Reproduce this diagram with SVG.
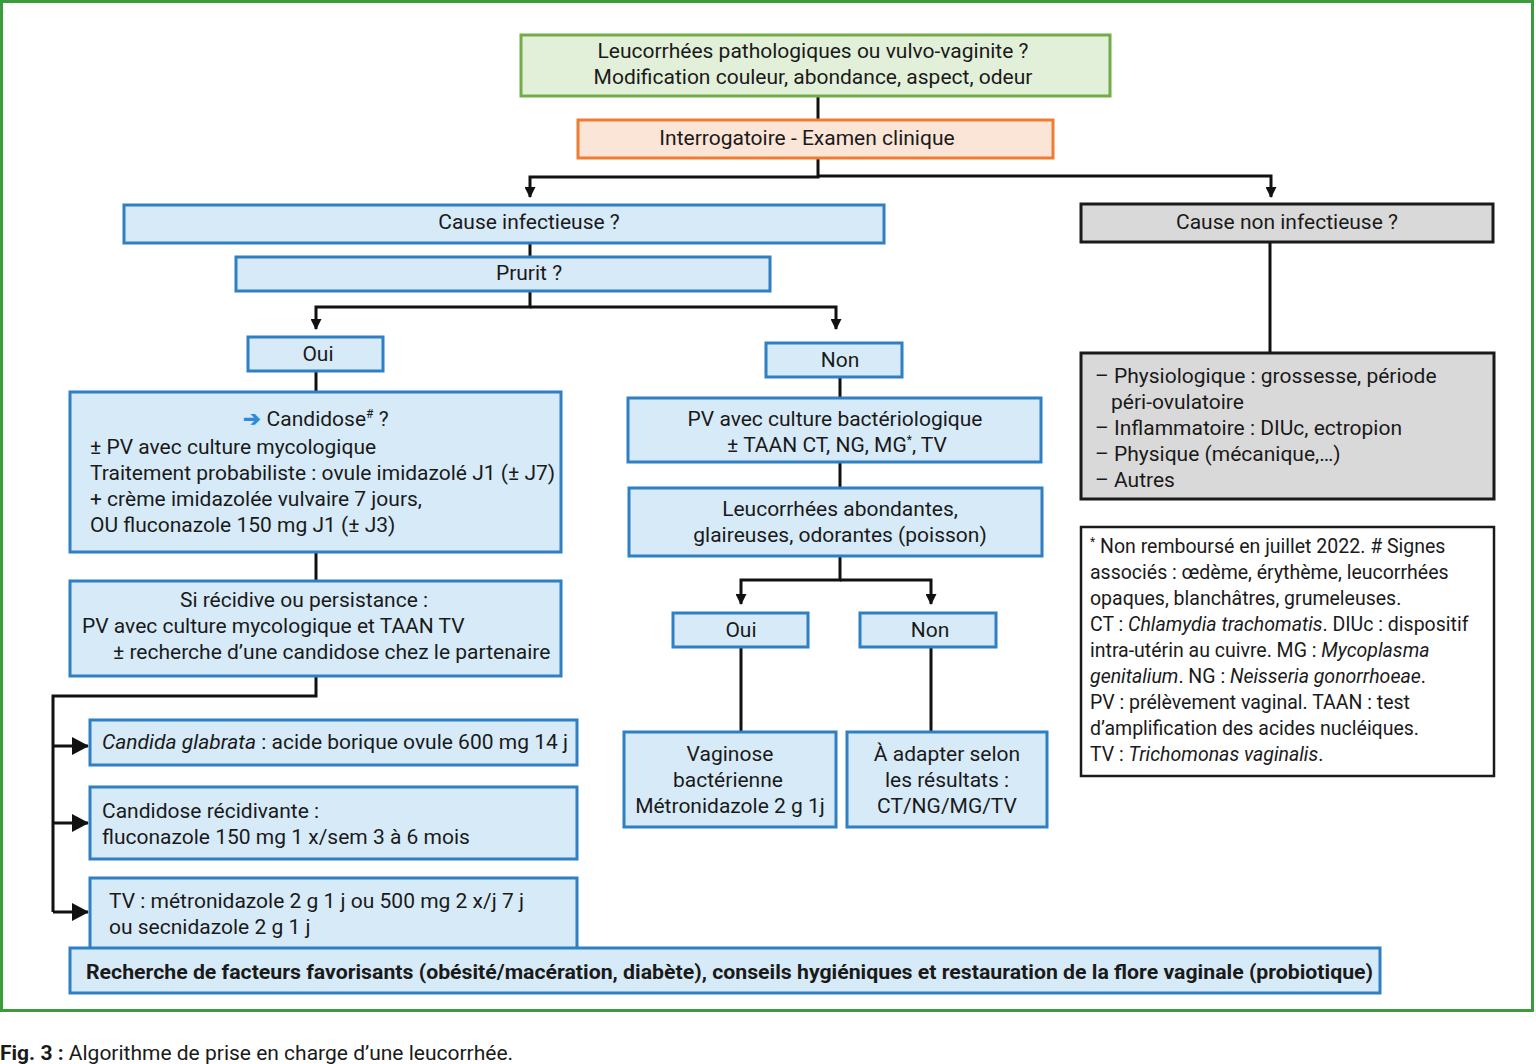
<svg xmlns="http://www.w3.org/2000/svg" width="1536" height="1064" viewBox="0 0 1536 1064">
<style>
text{font-family:Roboto,"Liberation Sans",sans-serif;font-size:21px;fill:#1a1a1a}
.c{text-anchor:middle}
.b{fill:#d6eaf8;stroke:#2e7fc4;stroke-width:3}
.g{fill:#d9d9d9;stroke:#1a1a1a;stroke-width:3}
.w{fill:#fff;stroke:#1a1a1a;stroke-width:2.5}
.ln{fill:none;stroke:#111;stroke-width:3}
.sm{font-size:19.5px}
.i{font-style:italic}
</style>
<defs>
<marker id="ad" markerWidth="11" markerHeight="11" refX="10" refY="5.5" orient="auto" markerUnits="userSpaceOnUse" viewBox="0 0 11 11">
<path d="M0,0 L11,5.5 L0,11 Z" fill="#111"/>
</marker>
<marker id="ar" markerWidth="17" markerHeight="18" refX="16" refY="9" orient="auto" markerUnits="userSpaceOnUse" viewBox="0 0 17 18">
<path d="M0,0 L17,9 L0,18 Z" fill="#111"/>
</marker>
</defs>
<rect x="0" y="0" width="1536" height="1064" fill="#fff"/>
<rect x="1.5" y="1.5" width="1531" height="1009" fill="none" stroke="#3c9c3c" stroke-width="3"/>

<g id="connectors">
<path class="ln" d="M818,96 V120"/>
<path class="ln" d="M818,158 V177 H530 V197" marker-end="url(#ad)"/>
<path class="ln" d="M818,176 H1271 V197" marker-end="url(#ad)"/>
<path class="ln" d="M530,243 V257"/>
<path class="ln" d="M530,291 V307 H316 V329" marker-end="url(#ad)"/>
<path class="ln" d="M530,307 H836 V329" marker-end="url(#ad)"/>
<path class="ln" d="M316,371 V392"/>
<path class="ln" d="M316,552 V581"/>
<path class="ln" d="M316,676 V696 H53 V912"/>
<path class="ln" d="M53,746 H88" marker-end="url(#ar)"/>
<path class="ln" d="M53,823 H88" marker-end="url(#ar)"/>
<path class="ln" d="M53,912 H88" marker-end="url(#ar)"/>
<path class="ln" d="M840,377 V398"/>
<path class="ln" d="M840,462 V488"/>
<path class="ln" d="M840,556 V580 H741 V604" marker-end="url(#ad)"/>
<path class="ln" d="M840,580 H931 V604" marker-end="url(#ad)"/>
<path class="ln" d="M741,647 V732"/>
<path class="ln" d="M931,647 V732"/>
<path class="ln" d="M1270,242 V353"/>
</g>

<g id="n-leucorrhees">
<rect x="521" y="35" width="589" height="61" fill="#e2f0d9" stroke="#70ad47" stroke-width="3"/>
<text class="c" x="813" y="58">Leucorrhées pathologiques ou vulvo-vaginite ?</text>
<text class="c" x="813" y="84">Modification couleur, abondance, aspect, odeur</text>
</g>
<g id="n-interrogatoire">
<rect x="578" y="120" width="475" height="38" fill="#fbe5d6" stroke="#ed7d31" stroke-width="3"/>
<text class="c" x="807" y="145">Interrogatoire - Examen clinique</text>
</g>
<g id="n-cause-inf">
<rect class="b" x="124" y="205" width="760" height="38"/>
<text class="c" x="529" y="229">Cause infectieuse ?</text>
</g>
<g id="n-cause-noninf">
<rect class="g" x="1081" y="204" width="412" height="38"/>
<text class="c" x="1287" y="229">Cause non infectieuse ?</text>
</g>
<g id="n-prurit">
<rect class="b" x="236" y="257" width="534" height="34"/>
<text class="c" x="529" y="280">Prurit ?</text>
</g>
<g id="n-oui1">
<rect class="b" x="248" y="337" width="135" height="34"/>
<text class="c" x="318" y="361">Oui</text>
</g>
<g id="n-non1">
<rect class="b" x="766" y="343" width="136" height="34"/>
<text class="c" x="840" y="367">Non</text>
</g>
<g id="n-candidose">
<rect class="b" x="70" y="392" width="491" height="160"/>
<text class="c" x="316" y="426"><tspan fill="#2e8bd8" font-weight="bold">➔</tspan> Candidose<tspan font-size="12" dy="-8">#</tspan><tspan dy="8"> ?</tspan></text>
<text x="90" y="454">± PV avec culture mycologique</text>
<text x="90" y="480">Traitement probabiliste : ovule imidazolé J1 (± J7)</text>
<text x="90" y="506">+ crème imidazolée vulvaire 7 jours,</text>
<text x="90" y="532">OU fluconazole 150 mg J1 (± J3)</text>
</g>
<g id="n-recidive">
<rect class="b" x="70" y="581" width="491" height="95"/>
<text class="c" x="304" y="607">Si récidive ou persistance :</text>
<text x="82" y="633">PV avec culture mycologique et TAAN TV</text>
<text x="113" y="659">± recherche d’une candidose chez le partenaire</text>
</g>
<g id="n-glabrata">
<rect class="b" x="90" y="720" width="487" height="45"/>
<text x="102" y="749"><tspan class="i">Candida glabrata</tspan> : acide borique ovule 600 mg 14 j</text>
</g>
<g id="n-recidivante">
<rect class="b" x="90" y="787" width="487" height="72"/>
<text x="102" y="818">Candidose récidivante :</text>
<text x="102" y="844">fluconazole 150 mg 1 x/sem 3 à 6 mois</text>
</g>
<g id="n-tv">
<rect class="b" x="90" y="878" width="487" height="72"/>
<text x="109" y="908">TV : métronidazole 2 g 1 j ou 500 mg 2 x/j 7 j</text>
<text x="109" y="934">ou secnidazole 2 g 1 j</text>
</g>
<g id="n-recherche">
<rect class="b" x="70" y="948" width="1310" height="45"/>
<text x="86" y="979" font-weight="bold" textLength="1287" lengthAdjust="spacingAndGlyphs">Recherche de facteurs favorisants (obésité/macération, diabète), conseils hygiéniques et restauration de la flore vaginale (probiotique)</text>
</g>
<g id="n-pv-bact">
<rect class="b" x="628" y="398" width="413" height="64"/>
<text class="c" x="835" y="426">PV avec culture bactériologique</text>
<text class="c" x="837" y="452">± TAAN CT, NG, MG<tspan font-size="12" dy="-8">*</tspan><tspan dy="8">, TV</tspan></text>
</g>
<g id="n-leuco-abond">
<rect class="b" x="629" y="488" width="413" height="68"/>
<text class="c" x="840" y="516">Leucorrhées abondantes,</text>
<text class="c" x="840" y="542">glaireuses, odorantes (poisson)</text>
</g>
<g id="n-oui2">
<rect class="b" x="673" y="613" width="135" height="34"/>
<text class="c" x="741" y="637">Oui</text>
</g>
<g id="n-non2">
<rect class="b" x="860" y="613" width="136" height="34"/>
<text class="c" x="930" y="637">Non</text>
</g>
<g id="n-vaginose">
<rect class="b" x="624" y="732" width="212" height="95"/>
<text class="c" x="730" y="761">Vaginose</text>
<text class="c" x="728" y="787">bactérienne</text>
<text class="c" x="730" y="813">Métronidazole 2 g 1j</text>
</g>
<g id="n-adapter">
<rect class="b" x="847" y="732" width="200" height="95"/>
<text class="c" x="947" y="761">À adapter selon</text>
<text class="c" x="947" y="787">les résultats :</text>
<text class="c" x="947" y="813">CT/NG/MG/TV</text>
</g>
<g id="n-noninf-list">
<rect class="g" x="1081" y="353" width="413" height="146"/>
<text x="1095" y="383">– Physiologique : grossesse, période</text>
<text x="1111" y="409">péri-ovulatoire</text>
<text x="1095" y="435">– Inflammatoire : DIUc, ectropion</text>
<text x="1095" y="461">– Physique (mécanique,…)</text>
<text x="1095" y="487">– Autres</text>
</g>
<g id="n-legend">
<rect class="w" x="1081" y="527" width="413" height="249"/>
<text class="sm" x="1090" y="553"><tspan font-size="12" dy="-7">*</tspan><tspan dy="7"> Non remboursé en juillet 2022. # Signes</tspan></text>
<text class="sm" x="1090" y="579">associés : œdème, érythème, leucorrhées</text>
<text class="sm" x="1090" y="605">opaques, blanchâtres, grumeleuses.</text>
<text class="sm" x="1090" y="631">CT : <tspan class="i">Chlamydia trachomatis</tspan>. DIUc : dispositif</text>
<text class="sm" x="1090" y="657">intra-utérin au cuivre. MG : <tspan class="i">Mycoplasma</tspan></text>
<text class="sm" x="1090" y="683"><tspan class="i">genitalium</tspan>. NG : <tspan class="i">Neisseria gonorrhoeae</tspan>.</text>
<text class="sm" x="1090" y="709">PV : prélèvement vaginal. TAAN : test</text>
<text class="sm" x="1090" y="735">d’amplification des acides nucléiques.</text>
<text class="sm" x="1090" y="761">TV : <tspan class="i">Trichomonas vaginalis</tspan>.</text>
</g>
<text x="0" y="1060" style="font-size:21px"><tspan font-weight="bold">Fig. 3 :</tspan> Algorithme de prise en charge d’une leucorrhée.</text>
</svg>
